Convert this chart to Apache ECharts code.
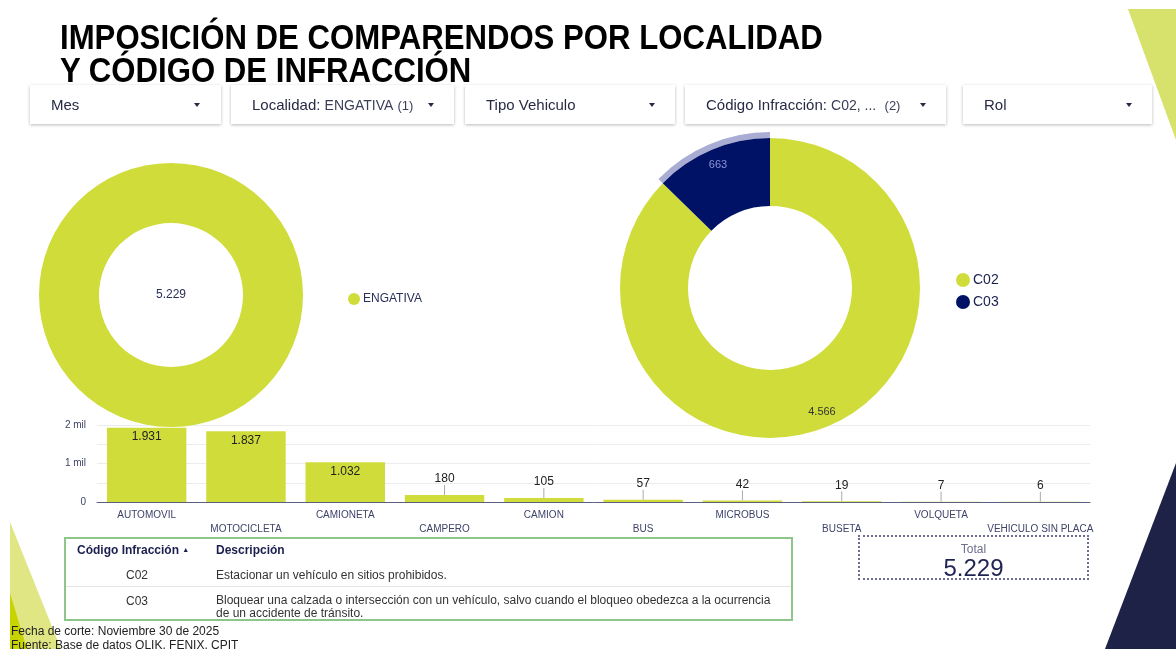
<!DOCTYPE html>
<html>
<head>
<meta charset="utf-8">
<script src="https://cdn.jsdelivr.net/npm/echarts@6/dist/echarts.min.js"></script>
<style>
  html,body{margin:0;padding:0;background:#fff;}
  #wrap{position:relative;width:1176px;height:649px;overflow:hidden;background:#fff;font-family:"Liberation Sans",Arial,sans-serif;}
  #chart{position:absolute;left:0;top:0;width:1176px;height:649px;}
  .ov{position:absolute;}
  #title{left:60px;top:20px;font-weight:bold;font-size:35px;line-height:33px;color:#000;transform:scaleX(0.89);transform-origin:left top;white-space:nowrap;}
  .flt{position:absolute;top:85px;height:39px;background:#fff;box-shadow:0 1px 3px rgba(0,0,0,0.28);font-size:15px;color:#262a45;}
  .flt .t{position:absolute;top:0;line-height:39px;white-space:nowrap;}
  .flt .t small{font-size:14px;color:#3a3e58;}
  .flt .t em{font-style:normal;font-size:13px;color:#3a3e58;}
  .flt .a{position:absolute;top:18px;width:0;height:0;border-left:3px solid transparent;border-right:3px solid transparent;border-top:4px solid #262a45;}
  #tbl{left:64px;top:537px;width:725px;height:80px;border:2px solid #8dc58b;font-size:12px;color:#333;}
  #tbl div{position:absolute;white-space:nowrap;}
  #tot{left:858px;top:535px;width:227px;height:41px;border:2px dotted #6a6e90;text-align:center;}
  #foot{left:11px;top:624px;font-size:12px;line-height:14px;color:#222;}
</style>
</head>
<body>
<div id="wrap">
  <div id="chart"></div>
  <div id="title" class="ov">IMPOSICIÓN DE COMPARENDOS POR LOCALIDAD<br>Y CÓDIGO DE INFRACCIÓN</div>

  <div class="flt" style="left:30px;width:191px;"><span class="t" style="left:21px;">Mes</span><span class="a" style="left:164px;"></span></div>
  <div class="flt" style="left:231px;width:223px;"><span class="t" style="left:21px;">Localidad: <small>ENGATIVA</small> <em>(1)</em></span><span class="a" style="left:197px;"></span></div>
  <div class="flt" style="left:465px;width:210px;"><span class="t" style="left:21px;">Tipo Vehiculo</span><span class="a" style="left:184px;"></span></div>
  <div class="flt" style="left:685px;width:261px;"><span class="t" style="left:21px;">Código Infracción: <small>C02, ...</small> &nbsp;<em>(2)</em></span><span class="a" style="left:235px;"></span></div>
  <div class="flt" style="left:963px;width:189px;"><span class="t" style="left:21px;">Rol</span><span class="a" style="left:163px;"></span></div>

  <div id="tbl" class="ov">
    <div style="left:11px;top:4px;font-weight:bold;color:#1b1f4e;font-size:12px;">Código Infracción <span style="font-size:7px;vertical-align:2px;">&#9650;</span></div>
    <div style="left:150px;top:4px;font-weight:bold;color:#1b1f4e;font-size:12px;">Descripción</div>
    <div style="left:60px;top:29px;">C02</div>
    <div style="left:150px;top:29px;">Estacionar un vehículo en sitios prohibidos.</div>
    <div style="left:0;top:47px;width:725px;height:1px;background:#e4e4e4;"></div>
    <div style="left:60px;top:55px;">C03</div>
    <div style="left:150px;top:55px;line-height:13px;">Bloquear una calzada o intersección con un vehículo, salvo cuando el bloqueo obedezca a la ocurrencia<br>de un accidente de tránsito.</div>
  </div>

  <div id="tot" class="ov">
    <div style="font-size:12px;color:#6b6f8c;margin-top:5px;line-height:14px;">Total</div>
    <div style="font-size:24px;color:#1f2453;line-height:24px;">5.229</div>
  </div>

  <div id="foot" class="ov">Fecha de corte: Noviembre 30 de 2025<br>Fuente: Base de datos QLIK, FENIX, CPIT</div>
</div>

<script>
// ---- data ----
var localidades = ['ENGATIVA'];
var localidadValues = [5229];
var codigos = ['C02', 'C03'];
var codigoValues = [4566, 663];
var tiposVehiculo = ['AUTOMOVIL', 'MOTOCICLETA', 'CAMIONETA', 'CAMPERO', 'CAMION', 'BUS', 'MICROBUS', 'BUSETA', 'VOLQUETA', 'VEHICULO SIN PLACA'];
var tipoValues = [1931, 1837, 1032, 180, 105, 57, 42, 19, 7, 6];
var yTickValues = [0, 1000, 2000];
var yTickLabels = ['0', '1 mil', '2 mil'];

// ---- styles ----
var GREEN = '#cfdc3a';
var NAVY = '#001266';
var FONT = '"Liberation Sans", Arial, sans-serif';
function fmt(v) { return String(v).replace(/\B(?=(\d{3})+(?!\d))/g, '.'); }

var chart = echarts.init(document.getElementById('chart'), null, {renderer: 'canvas'});

var option = {
  animation: false,
  textStyle: {fontFamily: FONT},
  graphic: [
    {type: 'polygon', z: 0, shape: {points: [[1128, 9], [1176, 9], [1176, 140]]}, style: {fill: '#d6e26c'}},
    {type: 'polygon', z: 0, shape: {points: [[1176, 463], [1176, 649], [1105, 649]]}, style: {fill: '#1f2247'}},
    {type: 'polygon', z: 0, shape: {points: [[10, 522], [10, 649], [61, 649]]}, style: {fill: '#dfe683'}},
    {type: 'polygon', z: 0, shape: {points: [[10, 593], [10, 649], [27, 649]]}, style: {fill: '#c8d400'}}
  ],
  legend: [
    {
      data: localidades, left: 343, top: 288, icon: 'circle', itemWidth: 12, itemHeight: 12, itemGap: 6,
      selectedMode: false,
      textStyle: {fontSize: 12, color: '#2a2f5a', fontFamily: FONT, padding: [0, 0, 0, -2]}
    },
    {
      data: codigos, left: 951, top: 268, orient: 'vertical', icon: 'circle', itemWidth: 14, itemHeight: 14, itemGap: 8,
      selectedMode: false,
      textStyle: {fontSize: 14, color: '#1b1f4e', fontFamily: FONT, padding: [0, 0, 0, -2]}
    }
  ],
  grid: {left: 97, right: 86, top: 425, bottom: 147, containLabel: false},
  xAxis: {
    type: 'category',
    data: tiposVehiculo,
    axisLine: {lineStyle: {color: '#5b6080', width: 1}},
    axisTick: {show: false},
    axisLabel: {
      interval: 0, margin: 6, fontSize: 10, color: '#3e4369', lineHeight: 14, fontFamily: FONT,
      formatter: function (v, i) { return i % 2 ? '\n' + v : v; }
    }
  },
  yAxis: {
    type: 'value', min: 0, max: 2000, interval: 500,
    axisLine: {show: false}, axisTick: {show: false},
    splitLine: {lineStyle: {color: '#ececec'}},
    axisLabel: {
      fontSize: 10, color: '#3e4369', margin: 11, fontFamily: FONT,
      formatter: function (v) { var k = yTickValues.indexOf(v); return k >= 0 ? yTickLabels[k] : ''; }
    }
  },
  series: [
    {
      type: 'bar',
      name: 'Tipo Vehiculo',
      barCategoryGap: '20%',
      itemStyle: {color: GREEN},
      data: tipoValues.map(function (v) {
        return {value: v, label: v >= 500 ? {position: 'insideTop', distance: 3} : {position: 'top', distance: 3}};
      }),
      label: {show: true, fontSize: 12, color: '#222', fontFamily: FONT, formatter: function (p) { return fmt(p.value); }},
      labelLine: {show: true, lineStyle: {color: '#aaaaaa', width: 1}},
      labelLayout: function (params) {
        if (tipoValues[params.dataIndex] < 500) {
          return {dy: -7};
        }
        return {};
      },
      silent: true,
      z: 1
    },
    {
      type: 'pie',
      name: 'Localidad',
      center: [171, 295],
      radius: [72, 132],
      silent: true,
      z: 5,
      data: localidades.map(function (n, i) { return {name: n, value: localidadValues[i], itemStyle: {color: GREEN}}; }),
      label: {show: true, position: 'center', fontSize: 12, color: '#2a2f5a', fontFamily: FONT,
        formatter: function () { return fmt(localidadValues.reduce(function (a, b) { return a + b; }, 0)); }},
      labelLine: {show: false}
    },
    {
      type: 'pie',
      name: 'Código Infracción',
      center: [770, 288],
      radius: [82, 150],
      silent: true,
      z: 5,
      data: codigos.map(function (n, i) {
        return {name: n, value: codigoValues[i], itemStyle: {color: i === 0 ? GREEN : NAVY}};
      }),
      label: {show: false},
      labelLine: {show: false}
    },
    {
      type: 'pie',
      name: 'Código ring',
      center: [770, 288],
      radius: [150, 156],
      silent: true,
      z: 4,
      data: codigos.map(function (n, i) {
        return {name: n, value: codigoValues[i], itemStyle: {color: i === 1 ? '#a9add3' : 'rgba(0,0,0,0)'}};
      }),
      label: {show: false}, labelLine: {show: false}
    },
    {
      type: 'pie',
      name: 'Código etiquetas',
      center: [770, 288],
      radius: [112, 150],
      silent: true,
      z: 6,
      data: codigos.map(function (n, i) {
        return {name: n, value: codigoValues[i], itemStyle: {color: 'rgba(0,0,0,0)'},
          label: {color: i === 0 ? '#333' : '#8c93d6'}};
      }),
      label: {show: true, position: 'inside', fontSize: 11, fontFamily: FONT, formatter: function (p) { return fmt(p.value); }},
      labelLine: {show: false}
    }
  ]
};
chart.setOption(option);
</script>
</body>
</html>
